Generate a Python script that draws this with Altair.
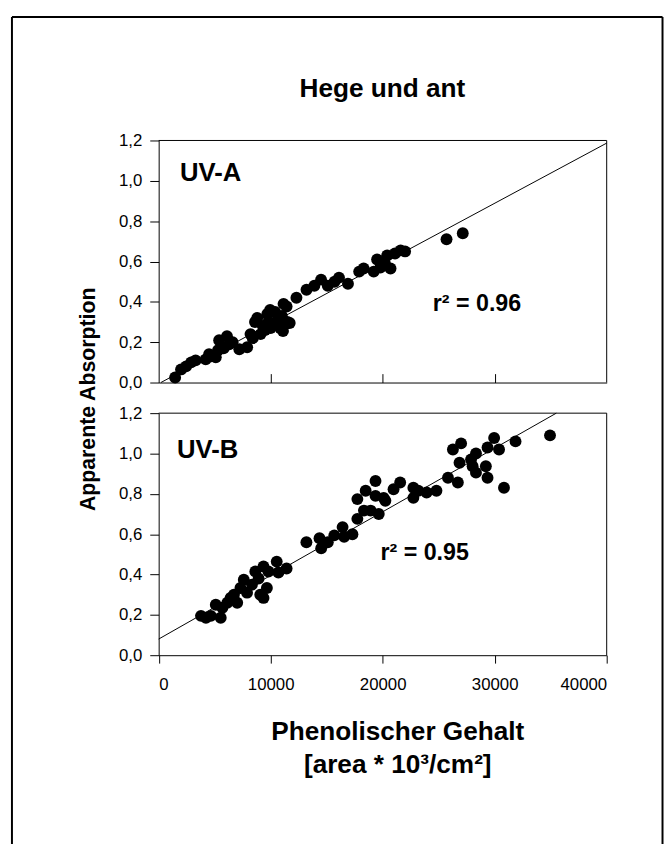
import altair as alt
import pandas as pd

# ---------------- data ----------------
uva_x = [1470, 2000, 2450, 2900, 3300, 4200, 4500, 4700, 5100, 5300, 5400, 5800, 6100, 6300, 6600,
         7200, 7900, 8200, 8400, 8600, 8800, 9100, 9300, 9500, 9700, 9800, 9950, 10000, 10250, 10400,
         10600, 10850, 11000, 11150, 11300, 11500, 11100, 11700, 11420, 12300, 13200, 13900, 14500, 15100,
         15700, 16100, 16900, 17900, 18300, 19200, 19500, 19800, 20200, 20400, 20700, 21100, 21600,
         22000, 25700, 27150]
uva_y = [0.025, 0.065, 0.08, 0.10, 0.11, 0.115, 0.14, 0.13, 0.125, 0.16, 0.21, 0.17, 0.23, 0.19, 0.20,
         0.165, 0.175, 0.24, 0.22, 0.30, 0.32, 0.24, 0.28, 0.26, 0.34, 0.30, 0.36, 0.27, 0.29, 0.35,
         0.31, 0.27, 0.33, 0.39, 0.29, 0.30, 0.255, 0.295, 0.377, 0.42, 0.46, 0.48, 0.51, 0.48,
         0.50, 0.52, 0.49, 0.55, 0.565, 0.55, 0.61, 0.57, 0.59, 0.63, 0.565, 0.64, 0.655,
         0.65, 0.71, 0.74]

uvb_x = [3780, 4220, 4660, 5100, 5540, 5690, 6130, 6420, 6720, 7010, 7300, 7600, 7890, 8330, 8630,
         8920, 9070, 9360, 9360, 9660, 9800, 10540, 10690, 11420, 13190, 14360, 14510, 15100, 15680,
         16420, 16560, 17300, 17740, 18330, 18920, 19650, 17740, 18480, 19360, 19360, 20090, 20240,
         20970, 21560, 22740, 23180, 22740, 23920, 24800, 25830, 26710, 26270, 27000, 26860, 27890,
         28330, 28030, 28330, 29210, 29360, 29360, 29950, 30390, 30830, 31860, 34940]
uvb_y = [0.195, 0.186, 0.195, 0.25, 0.186, 0.235, 0.26, 0.284, 0.30, 0.26, 0.333, 0.374, 0.31, 0.35, 0.415,
         0.38, 0.30, 0.284, 0.44, 0.333, 0.415, 0.464, 0.41, 0.43, 0.56, 0.58, 0.53, 0.56, 0.594,
         0.635, 0.587, 0.60, 0.676, 0.717, 0.717, 0.70, 0.774, 0.815, 0.864, 0.79, 0.78, 0.766,
         0.823, 0.856, 0.83, 0.815, 0.78, 0.807, 0.815, 0.88, 0.856, 1.02, 1.05, 0.954, 0.97,
         1.0, 0.937, 0.905, 0.937, 0.88, 1.03, 1.077, 1.02, 0.83, 1.06, 1.09]

fit_a_x = [200, 40000]
fit_a_y = [0.0, 1.187]
fit_b_x = [0, 35500]
fit_b_y = [0.08, 1.2]

x_ticks = [0, 10000, 20000, 30000, 40000]
x_inner_ticks = [10000, 20000, 30000]
y_ticks = [0, 0.2, 0.4, 0.6, 0.8, 1.0, 1.2]

title_text = "Hege und ant"
y_title = "Apparente Absorption"
x_title_1 = "Phenolischer Gehalt"
x_title_2 = "[area * 10³/cm²]"
label_a = "UV-A"
label_b = "UV-B"
r2_a = "r² = 0.96"
r2_b = "r² = 0.95"

# ---------------- layout ----------------
FONT = "Liberation Sans"
W, H = 664, 836
X_RANGE = [152.5, 606]
YA_RANGE = [374, 129]
YB_RANGE = [650, 405]
LABEL_EXPR = "replace(format(datum.value, '.1f'), '.', ',')"
one = pd.DataFrame({"k": [0]})


def y_axis():
    return alt.Axis(orient="left", offset=-X_RANGE[0], values=y_ticks, labelExpr=LABEL_EXPR,
                    tickSize=9, labelPadding=8, title=None, grid=False)


def panel(xs, ys, fx, fy, y_range, x_axis):
    pts = pd.DataFrame({"x": xs, "y": ys})
    fit = pd.DataFrame({"x": fx, "y": fy})
    sx = alt.Scale(domain=[0, 40000], range=X_RANGE)
    sy = alt.Scale(domain=[0, 1.2], range=y_range)
    enc = dict(x=alt.X("x:Q", scale=sx, axis=x_axis), y=alt.Y("y:Q", scale=sy, axis=y_axis()))
    points = alt.Chart(pts).mark_circle(size=145, color="black", opacity=1).encode(**enc)
    line = alt.Chart(fit).mark_line(color="black", strokeWidth=1).encode(**enc)
    return alt.layer(line, points)


top_x_axis = alt.Axis(orient="top", offset=-YA_RANGE[0], values=x_inner_ticks, labels=False,
                      tickSize=9, title=None, grid=False)
bottom_x_axis = alt.Axis(orient="bottom", offset=YB_RANGE[0] - H, values=x_ticks, format="d",
                         tickSize=8, labelPadding=14, title=None, grid=False)

panel_a = panel(uva_x, uva_y, fit_a_x, fit_a_y, YA_RANGE, top_x_axis)
panel_b = panel(uvb_x, uvb_y, fit_b_x, fit_b_y, YB_RANGE, bottom_x_axis)


def rule(x, y, x2=None, y2=None, width=1):
    enc = dict(x=alt.value(x), y=alt.value(y))
    if x2 is not None:
        enc["x2"] = alt.value(x2)
    if y2 is not None:
        enc["y2"] = alt.value(y2)
    return alt.Chart(one).mark_rule(color="black", strokeWidth=width).encode(**enc)


def text(t, x, y, size, align="center", angle=0):
    kw = dict(text=t, font=FONT, fontSize=size, fontWeight="bold", color="black",
              align=align, baseline="middle")
    if angle:
        kw["angle"] = angle
    return alt.Chart(one).mark_text(**kw).encode(x=alt.value(x), y=alt.value(y))


borders = [
    # outer frame (left, top, right)
    rule(4, 4, y2=H + 10, width=2),
    rule(4, 4, x2=662.5, width=2),
    rule(662.5, 4, y2=H + 10, width=2),
    # panel A box (top, right)
    rule(X_RANGE[0], YA_RANGE[1], x2=X_RANGE[1]),
    rule(X_RANGE[1], YA_RANGE[1], y2=YA_RANGE[0]),
    # panel B box (top, right)
    rule(X_RANGE[0], YB_RANGE[1], x2=X_RANGE[1]),
    rule(X_RANGE[1], YB_RANGE[1], y2=YB_RANGE[0]),
]

texts = [
    text(title_text, 379, 77, 26.5),
    text(y_title, 82, 391, 21.5, angle=270),
    text(x_title_1, 394.5, 728, 26.5),
    text(x_title_2, 394.5, 761, 26.5),
    text(label_a, 174, 162, 26, align="left"),
    text(label_b, 171, 442, 26, align="left"),
    text(r2_a, 430, 295, 23.5, align="left"),
    text(r2_b, 377, 547, 23.5, align="left"),
]

chart = alt.layer(panel_a, panel_b, *borders, *texts).resolve_scale(
    x="independent", y="independent"
).resolve_axis(
    x="independent", y="independent"
).properties(
    width=W, height=H, autosize=alt.AutoSizeParams(type="none"), padding=0
).configure_view(
    stroke=None
).configure_axis(
    labelFont=FONT, labelFontSize=17, labelColor="black", domainColor="black",
    tickColor="black", domainWidth=1, tickWidth=1
)

chart.save("out.html", embed_options={"renderer": "svg", "actions": False})
